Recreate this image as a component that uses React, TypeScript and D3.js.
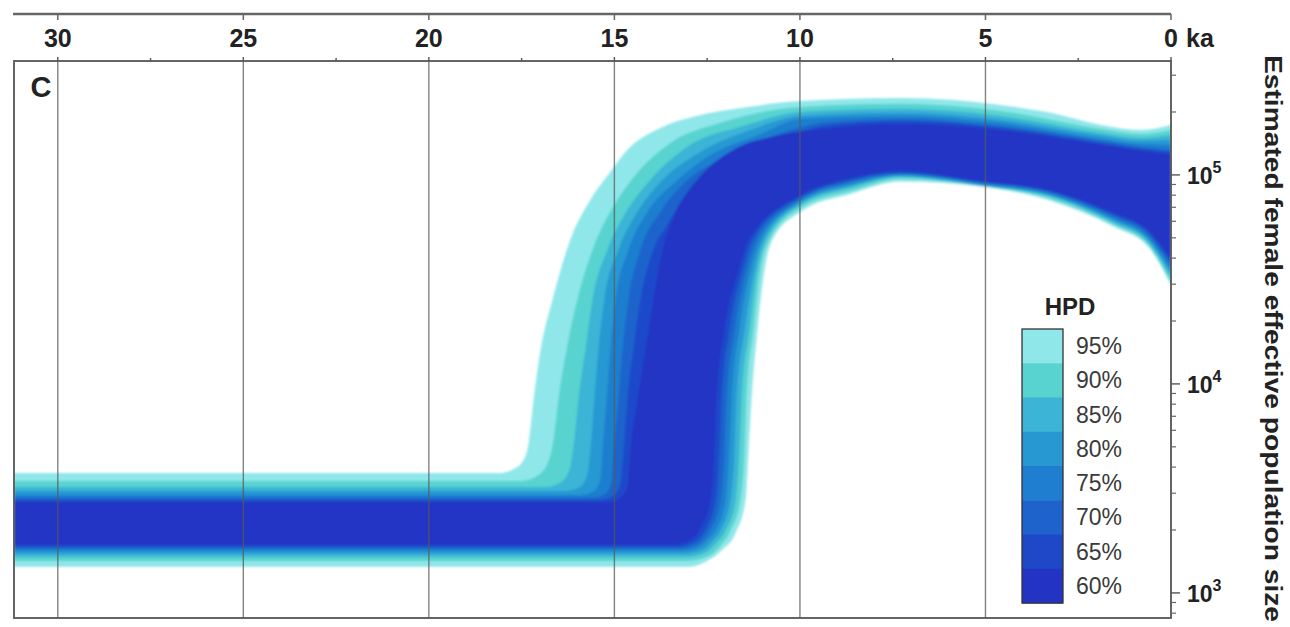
import React from 'react';
import * as d3 from 'd3';

const W = 1290;
const H = 627;

// ---- axis ticks ----
const majorTicks = [30, 25, 20, 15, 10, 5, 0];
const minorTicks = [27.5, 22.5, 17.5, 12.5, 7.5, 2.5];
const gridTicks = [30, 25, 20, 15, 10, 5];
const yTickExps = [3, 4, 5];

// ---- legend ----
const hpdLevels = ['95%', '90%', '85%', '80%', '75%', '70%', '65%', '60%'];
const hpdColors = ['#8fe7ea', '#58d3cf', '#3bb4d6', '#2898d2', '#1f7ecf', '#1d63cb', '#1f48c9', '#2334c4'];

// ---- HPD band edges: [ka, log10(Ne)] ----
const hpd95Upper = [[31.18,3.574],[18.07,3.574],[17.75,3.589],[17.48,3.627],[17.32,3.708],[17.18,3.923],[16.99,4.163],[16.67,4.402],[16.19,4.689],[15.65,4.88],[15.11,5.014],[14.65,5.12],[13.76,5.225],[12.87,5.278],[11.41,5.325],[9.98,5.354],[7.28,5.368],[4.59,5.335],[3.24,5.297],[1.89,5.239],[0.81,5.215],[0,5.239]];
const hpd90Upper = [[31.18,3.536],[17.53,3.536],[17.13,3.555],[16.83,3.608],[16.64,3.732],[16.51,3.923],[16.29,4.163],[16.0,4.402],[15.54,4.665],[15.05,4.842],[14.43,5.0],[13.49,5.153],[12.14,5.249],[9.98,5.325],[7.28,5.34],[4.59,5.306],[1.89,5.22],[0.81,5.196],[0,5.215]];
const hpd85Upper = [[31.18,3.507],[16.86,3.507],[16.46,3.526],[16.21,3.589],[16.08,3.732],[15.97,3.923],[15.78,4.163],[15.59,4.402],[15.19,4.641],[14.7,4.818],[14.03,4.976],[12.95,5.144],[11.6,5.23],[9.98,5.301],[7.28,5.316],[4.59,5.282],[1.89,5.201],[0.81,5.177],[0,5.191]];
const hpd80Upper = [[31.18,3.488],[16.32,3.488],[15.92,3.507],[15.73,3.565],[15.62,3.732],[15.54,3.923],[15.43,4.163],[15.27,4.402],[14.89,4.641],[14.38,4.823],[13.7,4.976],[12.68,5.11],[11.33,5.215],[9.98,5.282],[7.28,5.297],[4.59,5.263],[1.89,5.187],[0.81,5.163],[0,5.167]];
const hpd75Upper = [[31.18,3.469],[15.92,3.469],[15.54,3.488],[15.38,3.541],[15.3,3.732],[15.21,3.923],[15.11,4.163],[14.97,4.402],[14.62,4.641],[14.11,4.823],[13.35,4.967],[12.54,5.081],[11.06,5.196],[9.98,5.268],[7.28,5.282],[4.59,5.249],[1.89,5.172],[0.81,5.148],[0,5.144]];
const hpd70Upper = [[31.18,3.455],[15.59,3.455],[15.24,3.474],[15.08,3.526],[15.0,3.732],[14.89,3.923],[14.78,4.163],[14.62,4.402],[14.3,4.641],[13.76,4.823],[13.08,4.967],[12.27,5.062],[10.79,5.182],[9.17,5.254],[7.28,5.268],[4.59,5.234],[1.89,5.163],[0.81,5.134],[0,5.12]];
const hpd65Upper = [[31.18,3.445],[15.38,3.445],[15.03,3.464],[14.84,3.517],[14.73,3.732],[14.65,3.923],[14.49,4.163],[14.3,4.402],[13.97,4.632],[13.57,4.761],[12.95,4.938],[12.0,5.072],[10.66,5.167],[9.17,5.239],[7.28,5.258],[4.59,5.225],[1.89,5.153],[0.81,5.124],[0,5.11]];
const hpd60Upper = [[31.18,3.435],[15.19,3.435],[14.84,3.455],[14.65,3.507],[14.54,3.732],[14.38,3.923],[14.16,4.163],[13.95,4.402],[13.7,4.641],[13.43,4.785],[12.76,4.976],[11.79,5.12],[10.52,5.191],[9.17,5.225],[7.28,5.244],[4.59,5.215],[1.89,5.144],[0.81,5.115],[0,5.096]];

const hpd60Lower = [[31.18,3.23],[13.49,3.23],[13.0,3.249],[12.79,3.278],[12.68,3.311],[12.41,3.445],[12.3,3.684],[12.25,3.923],[12.03,4.258],[11.65,4.545],[11.38,4.689],[9.98,4.904],[8.63,4.986],[7.28,5.019],[5.13,4.971],[3.32,4.928],[1.54,4.818],[0.62,4.737],[0,4.603]];
const hpd65Lower = [[31.18,3.22],[13.38,3.22],[12.89,3.239],[12.68,3.268],[12.54,3.306],[12.27,3.445],[12.17,3.684],[12.11,3.923],[11.9,4.258],[11.55,4.545],[11.28,4.689],[9.98,4.895],[8.63,4.976],[7.28,5.01],[5.13,4.967],[3.32,4.923],[1.54,4.809],[0.62,4.727],[0,4.584]];
const hpd70Lower = [[31.18,3.211],[13.27,3.211],[12.79,3.23],[12.57,3.263],[12.41,3.306],[12.14,3.445],[12.03,3.684],[11.98,3.923],[11.76,4.258],[11.44,4.545],[11.17,4.689],[9.98,4.885],[8.63,4.967],[7.28,5.005],[5.13,4.962],[3.32,4.919],[1.54,4.799],[0.62,4.713],[0,4.565]];
const hpd75Lower = [[31.18,3.201],[13.19,3.201],[12.71,3.22],[12.46,3.258],[12.27,3.301],[12.0,3.445],[11.9,3.684],[11.84,3.923],[11.63,4.258],[11.33,4.545],[11.06,4.689],[9.98,4.876],[8.63,4.957],[7.28,5.0],[5.13,4.957],[3.32,4.909],[1.54,4.789],[0.62,4.699],[0,4.545]];
const hpd80Lower = [[31.18,3.187],[13.14,3.187],[12.62,3.206],[12.36,3.249],[12.14,3.301],[11.87,3.445],[11.76,3.684],[11.71,3.923],[11.49,4.258],[11.22,4.545],[10.98,4.689],[9.98,4.866],[8.63,4.947],[7.28,4.995],[5.13,4.952],[3.32,4.904],[1.54,4.78],[0.62,4.689],[0,4.526]];
const hpd85Lower = [[31.18,3.172],[13.08,3.172],[12.57,3.191],[12.25,3.239],[12.0,3.301],[11.73,3.445],[11.63,3.684],[11.57,3.923],[11.36,4.258],[11.14,4.545],[10.9,4.689],[9.98,4.856],[8.63,4.938],[7.28,4.99],[5.13,4.947],[3.32,4.9],[1.54,4.77],[0.62,4.679],[0,4.507]];
const hpd90Lower = [[31.18,3.153],[13.06,3.153],[12.52,3.172],[12.14,3.225],[11.87,3.297],[11.6,3.445],[11.49,3.684],[11.44,3.923],[11.25,4.258],[11.06,4.545],[10.82,4.689],[9.98,4.842],[8.63,4.923],[7.28,4.981],[5.13,4.947],[3.32,4.89],[1.54,4.761],[0.62,4.665],[0,4.488]];
const hpd95Lower = [[31.18,3.124],[13.03,3.124],[12.54,3.148],[12.09,3.206],[11.73,3.287],[11.46,3.445],[11.38,3.684],[11.3,3.923],[11.14,4.258],[10.95,4.545],[10.74,4.689],[9.98,4.823],[8.63,4.909],[7.28,4.967],[5.13,4.943],[3.32,4.88],[1.54,4.751],[0.62,4.656],[0,4.469]];

const uppers = [hpd95Upper, hpd90Upper, hpd85Upper, hpd80Upper, hpd75Upper, hpd70Upper, hpd65Upper, hpd60Upper];
const lowers = [hpd60Lower, hpd65Lower, hpd70Lower, hpd75Lower, hpd80Lower, hpd85Lower, hpd90Lower, hpd95Lower];

const PL = 14, PR = 1171, PT = 61, PB = 618;
const FONT = "'Liberation Sans', Arial, Helvetica, sans-serif";

export default function App() {
  const x = d3.scaleLinear().domain([31.18, 0]).range([PL, PR]);
  const y = d3.scaleLog().domain([10 ** 2.88, 10 ** 5.545]).range([PB, PT]);

  const area = d3.area<number[]>()
    .x(d => x(d[0]))
    .y0(PB + 5)
    .y1(d => y(10 ** d[1]))
    .curve(d3.curveMonotoneX);

  // upper fills: outermost first, each covering everything below its upper edge
  const upperFills = uppers.map((pts, i) => ({ d: area(pts as any) || '', fill: hpdColors[i] }));
  // lower fills: below 60% lower edge -> 65% colour, ..., below 95% lower edge -> white
  const lowerFillColors = ['#1f48c9', '#1d63cb', '#1f7ecf', '#2898d2', '#3bb4d6', '#58d3cf', '#8fe7ea', '#ffffff'];
  const lowerFills = lowers.map((pts, i) => ({ d: area(pts as any) || '', fill: lowerFillColors[i] }));

  const minorY = y.ticks().filter(v => {
    const l = Math.log10(v);
    return Math.abs(l - Math.round(l)) > 1e-6;
  });

  const legX = 1022, legY = 329, legW = 41, segH = 34.25;

  return (
    <div style={{ position: 'fixed', left: 0, top: 0 }}>
      <svg width={W} height={H} viewBox={`0 0 ${W} ${H}`} style={{ display: 'block', background: '#fff' }}>
        <defs>
          <clipPath id="plotClip">
            <rect x={PL} y={PT} width={PR - PL} height={PB - PT} />
          </clipPath>
          <filter id="soft" x="-5%" y="-5%" width="110%" height="110%">
            <feGaussianBlur stdDeviation="1.3" />
          </filter>
        </defs>

        <g clipPath="url(#plotClip)">
          <g filter="url(#soft)">
            {upperFills.map((f, i) => <path key={'u' + i} d={f.d} fill={f.fill} />)}
            {lowerFills.map((f, i) => <path key={'l' + i} d={f.d} fill={f.fill} />)}
          </g>
          {gridTicks.map(t => (
            <line key={'g' + t} x1={x(t)} x2={x(t)} y1={PT} y2={PB} stroke="#5a5a5a" strokeOpacity={0.75} strokeWidth={1.4} />
          ))}
        </g>

        {/* plot frame */}
        <rect x={PL} y={PT} width={PR - PL} height={PB - PT} fill="none" stroke="#555" strokeWidth={1.8} />

        {/* top axis line */}
        <line x1={13} x2={x(0)} y1={14} y2={14} stroke="#666" strokeWidth={2.4} />
        {majorTicks.map(t => (
          <line key={'tt' + t} x1={x(t)} x2={x(t)} y1={14} y2={20} stroke="#666" strokeWidth={1.5} />
        ))}
        {majorTicks.map(t => (
          <line key={'bt' + t} x1={x(t)} x2={x(t)} y1={PT - 4} y2={PT} stroke="#555" strokeWidth={1.4} />
        ))}
        {minorTicks.map(t => (
          <line key={'mt' + t} x1={x(t)} x2={x(t)} y1={PT - 3} y2={PT} stroke="#555" strokeWidth={1.4} />
        ))}
        {majorTicks.map(t => (
          <text key={'tl' + t} x={x(t)} y={47} textAnchor="middle" fontFamily={FONT} fontWeight="bold" fontSize={25} fill="#222">
            {t}
          </text>
        ))}
        <text x={1186} y={47} fontFamily={FONT} fontWeight="bold" fontSize={25} fill="#222">ka</text>

        {/* panel letter */}
        <text x={41} y={97} textAnchor="middle" fontFamily={FONT} fontWeight="bold" fontSize={29} fill="#222">C</text>

        {/* right log axis */}
        {minorY.map(v => (
          <line key={'my' + v} x1={PR} x2={PR + 5} y1={y(v)} y2={y(v)} stroke="#666" strokeWidth={1.2} />
        ))}
        {yTickExps.map(e => (
          <g key={'ye' + e}>
            <line x1={PR} x2={PR + 9} y1={y(10 ** e)} y2={y(10 ** e)} stroke="#555" strokeWidth={1.4} />
            <text x={1187} y={y(10 ** e) + 9} fontFamily={FONT} fontWeight="bold" fontSize={23} fill="#222">
              10<tspan dy={-11} fontSize={16}>{e}</tspan>
            </text>
          </g>
        ))}
        <text
          transform="translate(1265,55) rotate(90)"
          fontFamily={FONT}
          fontWeight="bold"
          fontSize={23}
          fill="#222"
          textLength={567}
          lengthAdjust="spacingAndGlyphs"
        >
          Estimated female effective population size
        </text>

        {/* legend */}
        <text x={1070} y={315} textAnchor="middle" fontFamily={FONT} fontWeight="bold" fontSize={24} fill="#222">HPD</text>
        {hpdLevels.map((lab, i) => (
          <g key={'lg' + lab}>
            <rect x={legX} y={legY + i * segH} width={legW} height={segH + 0.5} fill={hpdColors[i]} />
            <text x={1076} y={legY + i * segH + segH / 2 + 8} fontFamily={FONT} fontSize={23} fill="#3a3a3a">{lab}</text>
          </g>
        ))}
        <rect x={legX} y={legY} width={legW} height={segH * 8} fill="none" stroke="#333" strokeWidth={1.3} />
      </svg>
    </div>
  );
}
